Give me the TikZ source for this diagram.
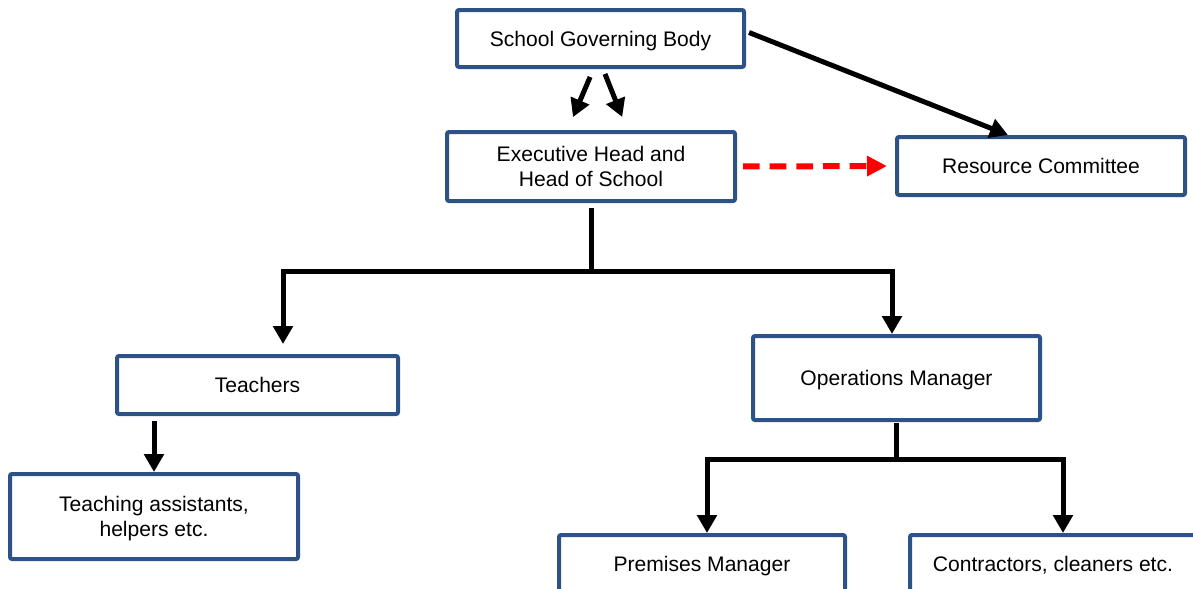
\documentclass[tikz,border=0pt]{standalone}
\usepackage{fontspec}
\setmainfont{Liberation Sans}
\usetikzlibrary{arrows.meta,calc}
\definecolor{boxblue}{RGB}{44,82,135}

\begin{document}
\begin{tikzpicture}[x=0.75pt,y=-0.75pt,
  box/.style={draw=boxblue,line width=3pt,rounded corners=1.5pt,align=center,inner sep=0pt,text depth=0pt,
    font=\fontsize{15.8}{18.75}\selectfont},
  conn/.style={line width=3.75pt},
  arr/.style={conn,-{Triangle[length=13.5pt,width=14.5pt]}},
  dasharr/.style={red,line width=4.5pt,dash pattern=on 12.5pt off 7.5pt,-{Triangle[length=15pt,width=14.5pt]}}]
\useasboundingbox (0,0) rectangle (1193,589);

\node[box,minimum width=215.25pt,minimum height=42.75pt] (sgb) at (600.5,38.5) {School Governing Body};
\node[box,minimum width=216pt,minimum height=51.75pt] (exec) at (591,166.5) {Executive Head and\\Head of School};
\node[box,minimum width=216pt,minimum height=43.5pt] (rc) at (1041,166) {Resource Committee};
\node[box,minimum width=210.75pt,minimum height=43.5pt] (teach) at (257.5,385) {Teachers};
\node[box,minimum width=215.25pt,minimum height=63pt] (ops) at (896.5,378) {Operations Manager};
\node[box,minimum width=216pt,minimum height=63.75pt] (ta) at (154,516.5) {Teaching assistants,\\helpers etc.};
\node[box,minimum width=214.5pt,minimum height=43.5pt] (prem) at (702,564) {Premises Manager};
\node[box,minimum width=214.5pt,minimum height=43.5pt] (con) at (1053,564) {Contractors, cleaners etc.};

\draw[arr,shorten <=6.5pt,shorten >=10.5pt] ($(sgb.south)+(-7,0)$) -- ($(exec.north)+(-23.5,0)$);
\draw[arr,shorten <=4pt,shorten >=10.5pt] ($(sgb.south)+(2.5,0)$) -- ($(exec.north)+(36.4,0)$);
\draw[arr] ($(sgb.east)+(3,-6)$) -- ($(rc.north)+(-33,0)$);
\draw[dasharr,shorten <=4.5pt,shorten >=6pt] (exec.east) -- (rc.west);

\coordinate (split1) at ($(exec.south)+(0,68)$);
\draw[conn,shorten <=3.75pt] (exec.south) -- (split1);
\draw[arr,shorten >=7.5pt] (split1) -| ($(teach.north)+(25.5,0)$);
\draw[arr] (split1) -| ($(ops.north)+(-4.5,0)$);

\draw[arr,shorten <=3.75pt] (ta.north |- teach.south) -- (ta.north);

\coordinate (split2) at ($(ops.south)+(0,37)$);
\draw[conn,shorten <=0.75pt] (ops.south) -- (split2);
\draw[arr] (split2) -| ($(prem.north)+(5,0)$);
\draw[arr] (split2) -| ($(con.north)+(10,0)$);
\end{tikzpicture}
\end{document}
